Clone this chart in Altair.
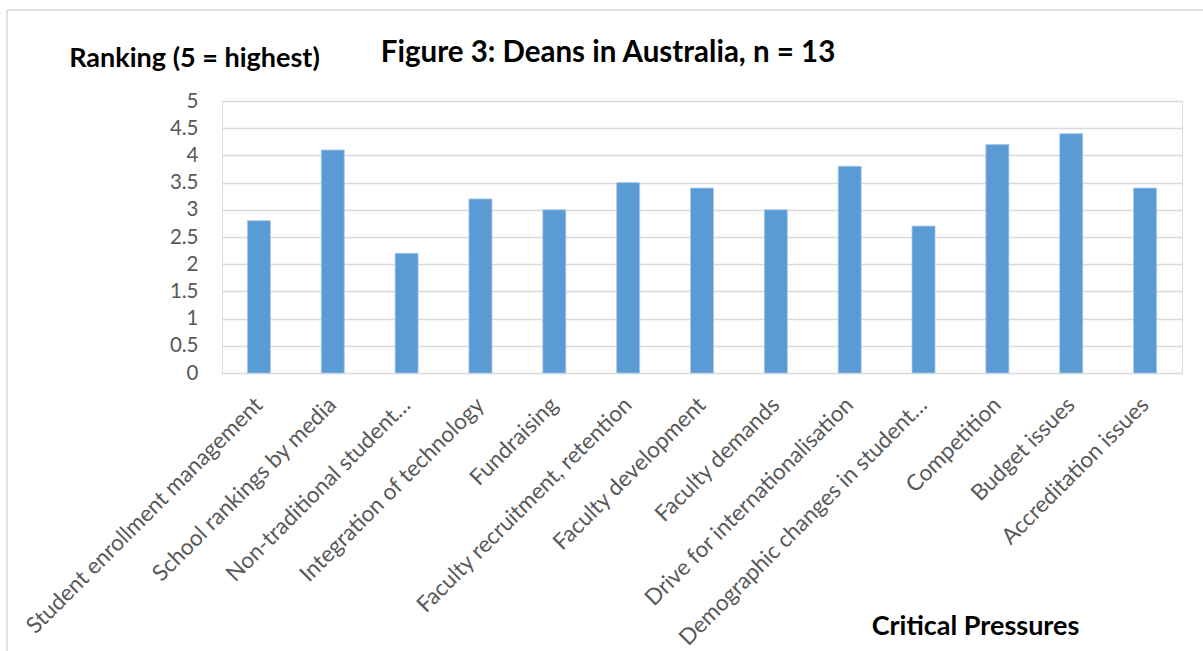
import altair as alt
import pandas as pd

categories = [
    "Student enrollment management",
    "School rankings by media",
    "Non-traditional student…",
    "Integration of technology",
    "Fundraising",
    "Faculty recruitment, retention",
    "Faculty development",
    "Faculty demands",
    "Drive for internationalisation",
    "Demographic changes in student…",
    "Competition",
    "Budget issues",
    "Accreditation issues",
]
values = [2.8, 4.1, 2.2, 3.2, 3.0, 3.5, 3.4, 3.0, 3.8, 2.7, 4.2, 4.4, 3.4]
y_ticks = [0, 0.5, 1, 1.5, 2, 2.5, 3, 3.5, 4, 4.5, 5]

df = pd.DataFrame({"pressure": categories, "ranking": values})

W, H = 960, 272
FONT = "Lato"
LABEL_COLOR = "#595959"

bars = alt.Chart(df).mark_bar(
    color="#5b9bd5", size=23, stroke="#a8c8e8", strokeWidth=0.8
).encode(
    x=alt.X(
        "pressure:N",
        sort=categories,
        scale=alt.Scale(paddingInner=0, paddingOuter=0),
        axis=alt.Axis(
            title="Critical Pressures",
            labelAngle=-45,
            labelAlign="right",
            labelBaseline="middle",
            labelPadding=28,
            labelFontSize=22.5,
            labelColor=LABEL_COLOR,
            labelFont=FONT,
            labelLimit=0,
            ticks=False,
            domain=False,
            titleX=753,
            titleY=253,
            titleAlign="center",
            titleBaseline="middle",
            titleFont=FONT,
            titleFontSize=27,
            titleFontWeight="bold",
            titleColor="black",
        ),
    ),
    y=alt.Y(
        "ranking:Q",
        scale=alt.Scale(domain=[0, 5], nice=False),
        axis=alt.Axis(
            values=y_ticks,
            format="~g",
            title="Ranking (5 = highest)",
            titleAngle=0,
            titleX=-28,
            titleY=-43,
            titleAlign="center",
            titleBaseline="middle",
            titleFont=FONT,
            titleFontSize=27,
            titleFontWeight="bold",
            titleColor="black",
            grid=True,
            gridColor="#d9d9d9",
            gridWidth=1.5,
            domain=False,
            ticks=False,
            labelPadding=24,
            labelFontSize=20.5,
            labelFont=FONT,
            labelColor=LABEL_COLOR,
        ),
    ),
)

frame_df = pd.DataFrame({"k": [0]})
top_line = alt.Chart(frame_df).mark_rule(color="#d9d9d9", strokeWidth=1.5).encode(
    x=alt.value(-215), x2=alt.value(W + 30), y=alt.value(-91)
)
left_line = alt.Chart(frame_df).mark_rule(color="#d9d9d9", strokeWidth=1.5).encode(
    x=alt.value(-215), y=alt.value(-91), y2=alt.value(H + 290)
)

chart = alt.layer(top_line, left_line, bars).properties(
    width=W,
    height=H,
    title=alt.TitleParams(
        "Figure 3: Deans in Australia, n = 13",
        font=FONT,
        fontSize=29.5,
        fontWeight="bold",
        color="black",
        anchor="middle",
        dx=-94,
        dy=63,
    ),
    padding={"left": 222, "top": 101, "right": 21, "bottom": 278},
    autosize=alt.AutoSizeParams(type="none"),
).configure_view(stroke=None).configure(background="white")

chart.save("out.html", embed_options={"renderer": "svg", "actions": False})
